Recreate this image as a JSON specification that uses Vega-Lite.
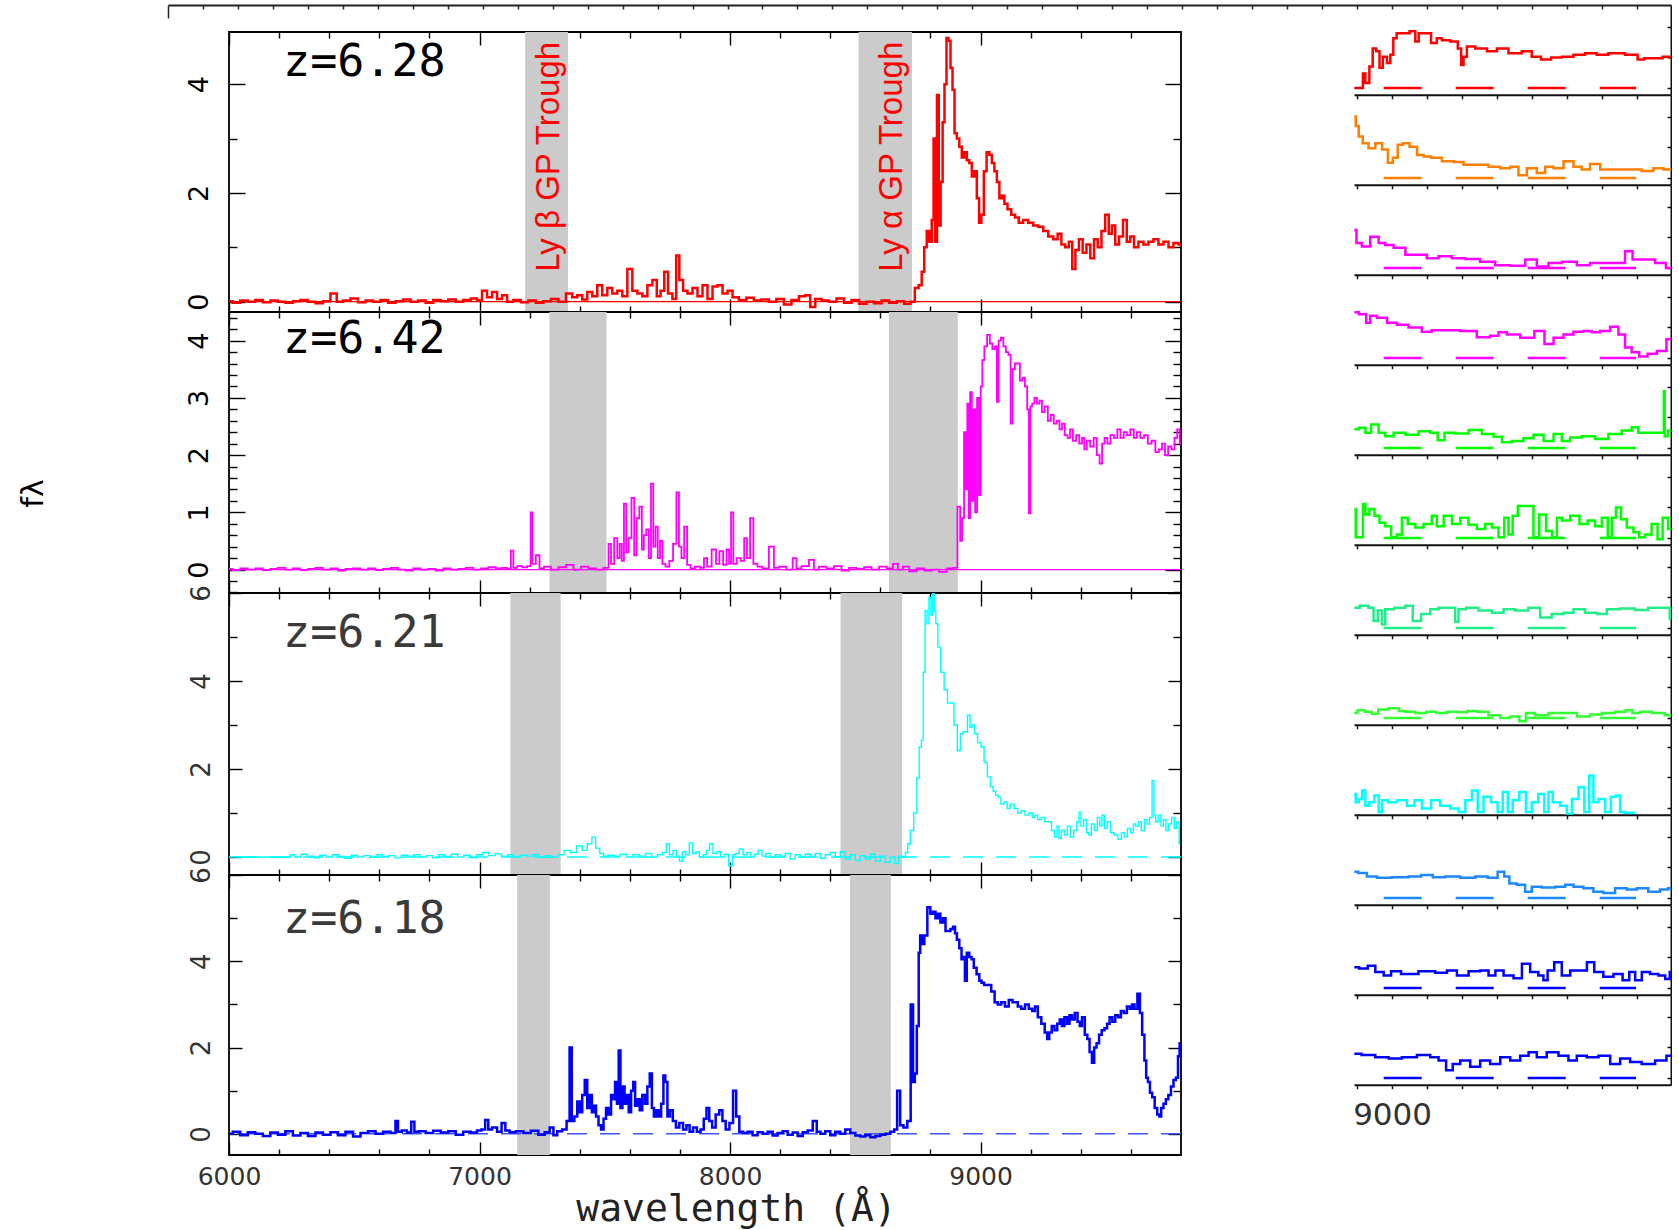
{
  "$schema": "https://vega.github.io/schema/vega-lite/v6.json",
  "background": "white",
  "padding": {"left": 18, "top": 4, "right": 0, "bottom": 0},
  "config": {
    "view": {"stroke": null},
    "axis": {"grid": false, "labelFlush": false, "labelOverlap": false},
    "font": "DejaVu Sans"
  },
  "datasets": {
    "bands1": [{"start": 7182, "end": 7353}, {"start": 8513, "end": 8726}],
    "bands2": [{"start": 7279, "end": 7507}, {"start": 8634, "end": 8909}],
    "bands3": [{"start": 7123, "end": 7324}, {"start": 8441, "end": 8687}],
    "bands4": [{"start": 7150, "end": 7281}, {"start": 8479, "end": 8642}],
    "p1": [
      {"w":6000,"f":0.01},{"w":6030,"f":-0.02},{"w":6060,"f":0.02},{"w":6090,"f":0},{"w":6120,"f":0.03},{"w":6150,"f":-0.01},{"w":6180,"f":0.02},{"w":6210,"f":0},{"w":6240,"f":-0.02},{"w":6270,"f":0.01},{"w":6300,"f":0.03},{"w":6330,"f":0},{"w":6360,"f":-0.03},{"w":6390,"f":0.01},{"w":6420,"f":0.15},{"w":6440,"f":0},{"w":6470,"f":0.02},{"w":6500,"f":0.06},{"w":6530,"f":-0.01},{"w":6560,"f":0.02},{"w":6590,"f":0},{"w":6620,"f":0.03},{"w":6650,"f":-0.02},{"w":6680,"f":0.01},{"w":6710,"f":0.04},{"w":6740,"f":0},{"w":6770,"f":0.02},{"w":6800,"f":-0.02},{"w":6830,"f":0.03},{"w":6860,"f":0.01},{"w":6890,"f":0.04},{"w":6920,"f":0},{"w":6950,"f":0.03},{"w":6980,"f":0.06},{"w":7000,"f":0.02},{"w":7020,"f":0.2},{"w":7040,"f":0.08},{"w":7060,"f":0.18},{"w":7080,"f":0.05},{"w":7100,"f":0.12},{"w":7120,"f":0},{"w":7150,"f":0.03},{"w":7180,"f":-0.01},{"w":7210,"f":0.02},{"w":7240,"f":-0.02},{"w":7270,"f":0.01},{"w":7300,"f":0.05},{"w":7330,"f":0},{"w":7360,"f":0.15},{"w":7380,"f":0.08},{"w":7400,"f":0.12},{"w":7420,"f":0.04},{"w":7440,"f":0.18},{"w":7460,"f":0.1},{"w":7480,"f":0.3},{"w":7500,"f":0.12},{"w":7520,"f":0.25},{"w":7540,"f":0.15},{"w":7560,"f":0.2},{"w":7580,"f":0.1},{"w":7600,"f":0.6},{"w":7620,"f":0.2},{"w":7640,"f":0.15},{"w":7660,"f":0.1},{"w":7680,"f":0.3},{"w":7700,"f":0.4},{"w":7715,"f":0.1},{"w":7730,"f":0.2},{"w":7745,"f":0.55},{"w":7760,"f":0.15},{"w":7780,"f":0.05},{"w":7790,"f":0.85},{"w":7805,"f":0.4},{"w":7820,"f":0.2},{"w":7840,"f":0.15},{"w":7860,"f":0.25},{"w":7880,"f":0.1},{"w":7900,"f":0.3},{"w":7920,"f":0.05},{"w":7940,"f":0.28},{"w":7960,"f":0.3},{"w":7980,"f":0.15},{"w":8000,"f":0.2},{"w":8020,"f":0.08},{"w":8050,"f":0.03},{"w":8080,"f":0.07},{"w":8110,"f":0.02},{"w":8140,"f":0.04},{"w":8170,"f":0},{"w":8200,"f":0.05},{"w":8230,"f":-0.05},{"w":8260,"f":0.03},{"w":8290,"f":0.1},{"w":8310,"f":0.12},{"w":8330,"f":-0.1},{"w":8350,"f":0.05},{"w":8380,"f":0.02},{"w":8410,"f":0},{"w":8440,"f":0.06},{"w":8470,"f":-0.02},{"w":8500,"f":0.03},{"w":8530,"f":-0.04},{"w":8560,"f":0},{"w":8590,"f":-0.03},{"w":8620,"f":0.02},{"w":8650,"f":-0.02},{"w":8680,"f":0.01},{"w":8710,"f":-0.04},{"w":8730,"f":0},{"w":8745,"f":0.25},{"w":8760,"f":0.3},{"w":8770,"f":0.55},{"w":8780,"f":1.0},{"w":8790,"f":1.3},{"w":8800,"f":1.1},{"w":8810,"f":1.5},{"w":8815,"f":3.0},{"w":8822,"f":1.1},{"w":8830,"f":3.8},{"w":8836,"f":1.4},{"w":8845,"f":2.2},{"w":8852,"f":3.3},{"w":8860,"f":4.0},{"w":8868,"f":4.85},{"w":8876,"f":4.8},{"w":8884,"f":4.3},{"w":8892,"f":3.9},{"w":8900,"f":3.1},{"w":8910,"f":3.0},{"w":8920,"f":2.85},{"w":8930,"f":2.65},{"w":8940,"f":2.75},{"w":8950,"f":2.6},{"w":8960,"f":2.55},{"w":8970,"f":2.3},{"w":8980,"f":2.4},{"w":8990,"f":1.9},{"w":8998,"f":1.45},{"w":9008,"f":1.6},{"w":9018,"f":2.4},{"w":9030,"f":2.75},{"w":9040,"f":2.7},{"w":9050,"f":2.55},{"w":9060,"f":2.4},{"w":9070,"f":2.2},{"w":9080,"f":1.9},{"w":9090,"f":1.95},{"w":9100,"f":1.8},{"w":9115,"f":1.7},{"w":9130,"f":1.6},{"w":9145,"f":1.55},{"w":9160,"f":1.45},{"w":9180,"f":1.5},{"w":9200,"f":1.45},{"w":9220,"f":1.4},{"w":9240,"f":1.38},{"w":9260,"f":1.3},{"w":9280,"f":1.2},{"w":9300,"f":1.15},{"w":9315,"f":1.25},{"w":9330,"f":1.05},{"w":9345,"f":1.0},{"w":9360,"f":1.1},{"w":9372,"f":0.6},{"w":9385,"f":0.95},{"w":9400,"f":1.15},{"w":9415,"f":0.9},{"w":9430,"f":1.05},{"w":9446,"f":0.8},{"w":9460,"f":1.15},{"w":9475,"f":1.0},{"w":9490,"f":1.3},{"w":9505,"f":1.6},{"w":9518,"f":1.25},{"w":9530,"f":1.4},{"w":9545,"f":1.05},{"w":9560,"f":1.2},{"w":9577,"f":1.5},{"w":9590,"f":1.1},{"w":9605,"f":1.2},{"w":9620,"f":1.0},{"w":9640,"f":1.1},{"w":9660,"f":1.05},{"w":9680,"f":1.1},{"w":9700,"f":1.15},{"w":9720,"f":1.05},{"w":9740,"f":1.1},{"w":9760,"f":1.0},{"w":9780,"f":1.08},{"w":9800,"f":1.05}
    ],
    "p2": [
      {"w":6000,"f":0.01},{"w":6030,"f":-0.01},{"w":6060,"f":0.02},{"w":6090,"f":0},{"w":6120,"f":0.02},{"w":6150,"f":-0.01},{"w":6180,"f":0.01},{"w":6210,"f":0.03},{"w":6240,"f":0},{"w":6270,"f":0.02},{"w":6300,"f":-0.01},{"w":6330,"f":0.01},{"w":6360,"f":0.03},{"w":6390,"f":0},{"w":6420,"f":0.02},{"w":6450,"f":-0.02},{"w":6480,"f":0.01},{"w":6510,"f":0.02},{"w":6540,"f":0},{"w":6570,"f":0.02},{"w":6600,"f":-0.01},{"w":6630,"f":0.01},{"w":6660,"f":0.03},{"w":6690,"f":0},{"w":6720,"f":-0.02},{"w":6750,"f":0.02},{"w":6780,"f":0},{"w":6810,"f":0.01},{"w":6840,"f":-0.02},{"w":6870,"f":0.02},{"w":6900,"f":0},{"w":6930,"f":0.01},{"w":6960,"f":0.03},{"w":6990,"f":0},{"w":7020,"f":0.02},{"w":7050,"f":0.04},{"w":7080,"f":0.02},{"w":7100,"f":0.03},{"w":7120,"f":0.01},{"w":7130,"f":0.33},{"w":7140,"f":0.03},{"w":7160,"f":0.06},{"w":7180,"f":0.04},{"w":7200,"f":0.06},{"w":7208,"f":1.0},{"w":7215,"f":0.1},{"w":7234,"f":0.25},{"w":7245,"f":0.02},{"w":7270,"f":0.05},{"w":7300,"f":0},{"w":7330,"f":0.04},{"w":7360,"f":0.08},{"w":7390,"f":0},{"w":7420,"f":0.05},{"w":7450,"f":0.02},{"w":7480,"f":0},{"w":7510,"f":0.03},{"w":7520,"f":0.45},{"w":7530,"f":0.1},{"w":7545,"f":0.55},{"w":7555,"f":0.2},{"w":7564,"f":0.45},{"w":7572,"f":0.15},{"w":7581,"f":1.15},{"w":7590,"f":0.3},{"w":7600,"f":0.55},{"w":7613,"f":1.25},{"w":7622,"f":0.25},{"w":7632,"f":0.9},{"w":7644,"f":1.1},{"w":7652,"f":0.35},{"w":7660,"f":0.6},{"w":7671,"f":0.7},{"w":7680,"f":0.2},{"w":7689,"f":1.5},{"w":7698,"f":0.4},{"w":7707,"f":0.75},{"w":7716,"f":0.2},{"w":7725,"f":0.5},{"w":7735,"f":0.1},{"w":7750,"f":0.05},{"w":7765,"f":0.15},{"w":7780,"f":0.45},{"w":7792,"f":1.35},{"w":7800,"f":0.4},{"w":7812,"f":0.2},{"w":7822,"f":0.75},{"w":7835,"f":0.08},{"w":7850,"f":0.02},{"w":7870,"f":0.05},{"w":7890,"f":0.03},{"w":7902,"f":0.2},{"w":7915,"f":0.05},{"w":7938,"f":0.35},{"w":7950,"f":0.1},{"w":7965,"f":0.32},{"w":7980,"f":0.08},{"w":7992,"f":0.35},{"w":8000,"f":0.1},{"w":8008,"f":1.0},{"w":8018,"f":0.1},{"w":8035,"f":0.2},{"w":8050,"f":0.15},{"w":8063,"f":0.55},{"w":8072,"f":0.2},{"w":8088,"f":0.9},{"w":8098,"f":0.1},{"w":8120,"f":0.05},{"w":8140,"f":0.02},{"w":8170,"f":0.4},{"w":8180,"f":0.03},{"w":8210,"f":0.05},{"w":8240,"f":0},{"w":8260,"f":0.2},{"w":8270,"f":0.02},{"w":8300,"f":0.06},{"w":8330,"f":0.17},{"w":8340,"f":0},{"w":8370,"f":0.05},{"w":8400,"f":0.02},{"w":8430,"f":0.06},{"w":8460,"f":-0.02},{"w":8490,"f":0.03},{"w":8520,"f":0.01},{"w":8550,"f":0.04},{"w":8580,"f":0},{"w":8610,"f":0.05},{"w":8640,"f":0.02},{"w":8660,"f":0.1},{"w":8680,"f":0},{"w":8700,"f":0.05},{"w":8730,"f":-0.03},{"w":8760,"f":0.02},{"w":8790,"f":-0.02},{"w":8820,"f":0},{"w":8850,"f":-0.04},{"w":8880,"f":0.02},{"w":8900,"f":0.03},{"w":8915,"f":1.1},{"w":8922,"f":0.5},{"w":8930,"f":0.9},{"w":8938,"f":2.4},{"w":8944,"f":1.4},{"w":8950,"f":2.9},{"w":8955,"f":0.9},{"w":8962,"f":3.1},{"w":8968,"f":1.2},{"w":8975,"f":2.8},{"w":8982,"f":1.0},{"w":8990,"f":3.0},{"w":8997,"f":1.3},{"w":9004,"f":3.2},{"w":9010,"f":3.66},{"w":9020,"f":3.9},{"w":9032,"f":4.1},{"w":9042,"f":3.95},{"w":9052,"f":3.85},{"w":9062,"f":3.9},{"w":9068,"f":2.93},{"w":9076,"f":4.0},{"w":9086,"f":4.05},{"w":9096,"f":3.9},{"w":9106,"f":3.8},{"w":9116,"f":3.75},{"w":9124,"f":2.55},{"w":9132,"f":3.5},{"w":9142,"f":3.6},{"w":9152,"f":3.6},{"w":9162,"f":3.3},{"w":9172,"f":3.35},{"w":9182,"f":3.2},{"w":9190,"f":2.8},{"w":9196,"f":0.98},{"w":9202,"f":2.85},{"w":9210,"f":2.9},{"w":9220,"f":3.0},{"w":9230,"f":2.9},{"w":9240,"f":2.95},{"w":9250,"f":2.75},{"w":9262,"f":2.85},{"w":9275,"f":2.6},{"w":9286,"f":2.7},{"w":9298,"f":2.55},{"w":9310,"f":2.6},{"w":9320,"f":2.45},{"w":9330,"f":2.55},{"w":9342,"f":2.35},{"w":9352,"f":2.3},{"w":9362,"f":2.45},{"w":9375,"f":2.25},{"w":9388,"f":2.35},{"w":9400,"f":2.2},{"w":9410,"f":2.3},{"w":9418,"f":2.1},{"w":9430,"f":2.25},{"w":9445,"f":2.15},{"w":9458,"f":2.3},{"w":9470,"f":2.0},{"w":9480,"f":1.85},{"w":9490,"f":2.2},{"w":9500,"f":2.3},{"w":9512,"f":2.2},{"w":9525,"f":2.35},{"w":9540,"f":2.3},{"w":9552,"f":2.45},{"w":9565,"f":2.3},{"w":9578,"f":2.4},{"w":9590,"f":2.35},{"w":9605,"f":2.45},{"w":9618,"f":2.3},{"w":9630,"f":2.4},{"w":9645,"f":2.3},{"w":9660,"f":2.35},{"w":9675,"f":2.2},{"w":9690,"f":2.25},{"w":9705,"f":2.05},{"w":9718,"f":2.1},{"w":9730,"f":2.2},{"w":9742,"f":2.0},{"w":9755,"f":2.15},{"w":9768,"f":2.1},{"w":9780,"f":2.3},{"w":9790,"f":2.45},{"w":9800,"f":2.2}
    ],
    "p3": [
      {"w":6000,"f":0},{"w":6240,"f":0},{"w":6250,"f":0.05},{"w":6275,"f":0},{"w":6300,"f":0.06},{"w":6325,"f":0.02},{"w":6350,"f":-0.02},{"w":6375,"f":0.04},{"w":6400,"f":0},{"w":6425,"f":0.05},{"w":6450,"f":0.01},{"w":6475,"f":-0.03},{"w":6500,"f":0.04},{"w":6525,"f":0},{"w":6550,"f":0.03},{"w":6575,"f":-0.01},{"w":6600,"f":0.05},{"w":6625,"f":0.01},{"w":6650,"f":0.03},{"w":6675,"f":-0.02},{"w":6700,"f":0.04},{"w":6725,"f":0.02},{"w":6750,"f":0.05},{"w":6775,"f":0},{"w":6800,"f":0.03},{"w":6825,"f":-0.02},{"w":6850,"f":0.05},{"w":6875,"f":0.01},{"w":6900,"f":0.06},{"w":6925,"f":0},{"w":6950,"f":0.04},{"w":6975,"f":-0.02},{"w":7000,"f":0.05},{"w":7025,"f":0.1},{"w":7050,"f":0.03},{"w":7075,"f":0.07},{"w":7100,"f":0.02},{"w":7125,"f":0.05},{"w":7150,"f":0},{"w":7175,"f":0.04},{"w":7200,"f":0.02},{"w":7225,"f":0.05},{"w":7250,"f":-0.01},{"w":7275,"f":0.03},{"w":7300,"f":0},{"w":7325,"f":0.05},{"w":7350,"f":0.15},{"w":7375,"f":0.1},{"w":7400,"f":0.25},{"w":7420,"f":0.15},{"w":7440,"f":0.3},{"w":7457,"f":0.45},{"w":7470,"f":0.2},{"w":7490,"f":0.08},{"w":7500,"f":0.02},{"w":7525,"f":0.04},{"w":7550,"f":0.02},{"w":7575,"f":0.06},{"w":7600,"f":0},{"w":7625,"f":0.05},{"w":7650,"f":0.02},{"w":7675,"f":0.08},{"w":7700,"f":0},{"w":7720,"f":0.05},{"w":7740,"f":0.1},{"w":7751,"f":0.3},{"w":7765,"f":0.05},{"w":7780,"f":0.15},{"w":7792,"f":0.02},{"w":7805,"f":-0.1},{"w":7815,"f":0.12},{"w":7830,"f":0.05},{"w":7844,"f":0.32},{"w":7858,"f":0.08},{"w":7870,"f":0.12},{"w":7885,"f":0},{"w":7900,"f":0.05},{"w":7912,"f":0.15},{"w":7924,"f":0.3},{"w":7940,"f":0.08},{"w":7955,"f":0.12},{"w":7970,"f":0},{"w":7985,"f":0.06},{"w":8004,"f":-0.2},{"w":8015,"f":0.05},{"w":8030,"f":0.08},{"w":8044,"f":0.18},{"w":8060,"f":0.05},{"w":8075,"f":0.1},{"w":8090,"f":0},{"w":8105,"f":0.06},{"w":8120,"f":0.15},{"w":8135,"f":0.02},{"w":8150,"f":0.08},{"w":8170,"f":0},{"w":8190,"f":0.05},{"w":8210,"f":0.02},{"w":8230,"f":0.08},{"w":8250,"f":-0.05},{"w":8270,"f":0.05},{"w":8290,"f":0},{"w":8310,"f":0.06},{"w":8330,"f":0.02},{"w":8350,"f":0.08},{"w":8370,"f":-0.03},{"w":8390,"f":0.05},{"w":8410,"f":0.1},{"w":8430,"f":0},{"w":8450,"f":0.12},{"w":8470,"f":-0.05},{"w":8490,"f":0.05},{"w":8510,"f":-0.08},{"w":8530,"f":0.03},{"w":8550,"f":-0.05},{"w":8570,"f":0.06},{"w":8590,"f":-0.1},{"w":8610,"f":0.02},{"w":8630,"f":-0.12},{"w":8650,"f":0},{"w":8665,"f":-0.15},{"w":8680,"f":0.02},{"w":8695,"f":0},{"w":8705,"f":0.1},{"w":8714,"f":0.3},{"w":8725,"f":0.6},{"w":8741,"f":1.0},{"w":8750,"f":1.8},{"w":8760,"f":2.5},{"w":8767,"f":2.65},{"w":8775,"f":4.2},{"w":8782,"f":5.6},{"w":8790,"f":5.3},{"w":8798,"f":5.9},{"w":8805,"f":5.5},{"w":8812,"f":6.0},{"w":8818,"f":5.6},{"w":8825,"f":5.3},{"w":8834,"f":4.77},{"w":8848,"f":4.2},{"w":8861,"f":3.8},{"w":8875,"f":3.5},{"w":8888,"f":3.5},{"w":8900,"f":3.0},{"w":8914,"f":2.42},{"w":8925,"f":2.8},{"w":8935,"f":2.85},{"w":8941,"f":2.84},{"w":8954,"f":3.22},{"w":8962,"f":2.95},{"w":8970,"f":3.0},{"w":8981,"f":2.8},{"w":8995,"f":2.6},{"w":9008,"f":2.5},{"w":9020,"f":2.15},{"w":9034,"f":1.82},{"w":9045,"f":1.6},{"w":9055,"f":1.5},{"w":9065,"f":1.4},{"w":9075,"f":1.36},{"w":9088,"f":1.2},{"w":9100,"f":1.25},{"w":9112,"f":1.1},{"w":9125,"f":1.2},{"w":9142,"f":1.1},{"w":9155,"f":1.0},{"w":9170,"f":1.05},{"w":9185,"f":0.95},{"w":9200,"f":1.0},{"w":9212,"f":0.9},{"w":9222,"f":0.95},{"w":9235,"f":0.85},{"w":9250,"f":0.9},{"w":9262,"f":0.8},{"w":9276,"f":0.8},{"w":9290,"f":0.6},{"w":9300,"f":0.45},{"w":9310,"f":0.7},{"w":9316,"f":0.42},{"w":9328,"f":0.6},{"w":9340,"f":0.5},{"w":9352,"f":0.7},{"w":9365,"f":0.45},{"w":9378,"f":0.6},{"w":9390,"f":0.8},{"w":9396,"f":1.02},{"w":9405,"f":0.7},{"w":9418,"f":0.85},{"w":9428,"f":0.55},{"w":9436,"f":0.5},{"w":9448,"f":0.75},{"w":9460,"f":0.6},{"w":9472,"f":0.9},{"w":9480,"f":0.7},{"w":9489,"f":0.95},{"w":9500,"f":0.65},{"w":9512,"f":0.8},{"w":9525,"f":0.55},{"w":9540,"f":0.5},{"w":9556,"f":0.4},{"w":9568,"f":0.55},{"w":9580,"f":0.45},{"w":9592,"f":0.65},{"w":9605,"f":0.55},{"w":9615,"f":0.75},{"w":9623,"f":0.7},{"w":9635,"f":0.8},{"w":9648,"f":0.6},{"w":9660,"f":0.85},{"w":9670,"f":0.75},{"w":9680,"f":0.9},{"w":9689,"f":1.74},{"w":9695,"f":0.95},{"w":9703,"f":0.8},{"w":9715,"f":0.95},{"w":9725,"f":0.7},{"w":9735,"f":0.85},{"w":9745,"f":0.6},{"w":9757,"f":0.75},{"w":9768,"f":0.9},{"w":9778,"f":0.65},{"w":9788,"f":0.8},{"w":9797,"f":0.3}
    ],
    "p4": [
      {"w":6000,"f":0},{"w":6030,"f":0.05},{"w":6060,"f":-0.03},{"w":6090,"f":0.04},{"w":6120,"f":0},{"w":6150,"f":-0.05},{"w":6180,"f":0.03},{"w":6210,"f":-0.02},{"w":6240,"f":0.06},{"w":6270,"f":-0.04},{"w":6300,"f":0.02},{"w":6330,"f":-0.05},{"w":6360,"f":0.03},{"w":6390,"f":-0.02},{"w":6420,"f":0.04},{"w":6450,"f":-0.03},{"w":6480,"f":0.05},{"w":6510,"f":-0.06},{"w":6540,"f":0.02},{"w":6570,"f":0.06},{"w":6600,"f":0},{"w":6630,"f":0.05},{"w":6660,"f":0.02},{"w":6669,"f":0.3},{"w":6680,"f":0.05},{"w":6700,"f":0.08},{"w":6720,"f":0.03},{"w":6735,"f":0.28},{"w":6745,"f":0.05},{"w":6770,"f":0.06},{"w":6800,"f":0.02},{"w":6830,"f":0.07},{"w":6860,"f":0.03},{"w":6890,"f":0.06},{"w":6920,"f":-0.02},{"w":6950,"f":0.05},{"w":6980,"f":0.03},{"w":7000,"f":0.08},{"w":7015,"f":0.1},{"w":7030,"f":0.32},{"w":7040,"f":0.1},{"w":7060,"f":0.15},{"w":7080,"f":0.05},{"w":7096,"f":0.25},{"w":7110,"f":0.08},{"w":7130,"f":0.04},{"w":7160,"f":0.06},{"w":7190,"f":0.02},{"w":7220,"f":0.07},{"w":7250,"f":-0.02},{"w":7270,"f":0.04},{"w":7290,"f":0.15},{"w":7300,"f":-0.03},{"w":7320,"f":0.06},{"w":7340,"f":0.1},{"w":7355,"f":0.3},{"w":7364,"f":2.0},{"w":7372,"f":0.3},{"w":7385,"f":0.4},{"w":7395,"f":0.75},{"w":7405,"f":0.5},{"w":7415,"f":0.9},{"w":7425,"f":1.25},{"w":7435,"f":0.6},{"w":7445,"f":0.9},{"w":7452,"f":0.5},{"w":7460,"f":0.65},{"w":7470,"f":0.4},{"w":7480,"f":0.2},{"w":7490,"f":0.1},{"w":7500,"f":0.35},{"w":7510,"f":0.6},{"w":7520,"f":0.45},{"w":7530,"f":0.9},{"w":7537,"f":0.8},{"w":7545,"f":1.2},{"w":7552,"f":0.7},{"w":7559,"f":1.93},{"w":7566,"f":0.6},{"w":7575,"f":1.1},{"w":7583,"f":0.7},{"w":7591,"f":0.9},{"w":7600,"f":0.5},{"w":7610,"f":1.0},{"w":7617,"f":1.2},{"w":7625,"f":0.65},{"w":7635,"f":0.8},{"w":7644,"f":0.55},{"w":7655,"f":0.9},{"w":7665,"f":0.7},{"w":7675,"f":1.1},{"w":7684,"f":1.4},{"w":7692,"f":0.6},{"w":7700,"f":0.4},{"w":7711,"f":0.55},{"w":7720,"f":0.4},{"w":7730,"f":0.7},{"w":7738,"f":1.35},{"w":7745,"f":1.2},{"w":7755,"f":0.4},{"w":7765,"f":0.55},{"w":7778,"f":0.3},{"w":7790,"f":0.15},{"w":7805,"f":0.25},{"w":7820,"f":0.1},{"w":7832,"f":0.2},{"w":7845,"f":0.05},{"w":7860,"f":0.15},{"w":7875,"f":0.05},{"w":7890,"f":0.1},{"w":7900,"f":0.35},{"w":7912,"f":0.6},{"w":7922,"f":0.3},{"w":7935,"f":0.15},{"w":7950,"f":0.45},{"w":7964,"f":0.55},{"w":7975,"f":0.3},{"w":7990,"f":0.1},{"w":8005,"f":0.25},{"w":8019,"f":1.0},{"w":8030,"f":0.4},{"w":8044,"f":0.05},{"w":8060,"f":0.02},{"w":8080,"f":0.05},{"w":8100,"f":-0.03},{"w":8120,"f":0.04},{"w":8140,"f":0},{"w":8160,"f":0.05},{"w":8180,"f":-0.04},{"w":8200,"f":0.02},{"w":8220,"f":0.06},{"w":8240,"f":-0.02},{"w":8260,"f":0.03},{"w":8280,"f":-0.05},{"w":8300,"f":0.04},{"w":8320,"f":0.08},{"w":8340,"f":0.3},{"w":8352,"f":0.05},{"w":8370,"f":0},{"w":8390,"f":0.06},{"w":8410,"f":-0.03},{"w":8430,"f":0.05},{"w":8450,"f":0},{"w":8470,"f":0.1},{"w":8490,"f":0.02},{"w":8510,"f":-0.04},{"w":8530,"f":-0.06},{"w":8550,"f":-0.03},{"w":8570,"f":-0.08},{"w":8590,"f":-0.05},{"w":8610,"f":-0.02},{"w":8630,"f":0},{"w":8650,"f":0.05},{"w":8660,"f":0.1},{"w":8674,"f":1.0},{"w":8684,"f":0.2},{"w":8700,"f":0.15},{"w":8715,"f":0.3},{"w":8727,"f":3.0},{"w":8734,"f":1.2},{"w":8741,"f":1.4},{"w":8750,"f":2.5},{"w":8756,"f":4.2},{"w":8762,"f":4.6},{"w":8770,"f":4.4},{"w":8781,"f":4.6},{"w":8794,"f":5.25},{"w":8805,"f":5.1},{"w":8815,"f":5.15},{"w":8825,"f":5.0},{"w":8834,"f":5.1},{"w":8845,"f":4.9},{"w":8855,"f":5.0},{"w":8865,"f":4.7},{"w":8874,"f":4.7},{"w":8885,"f":4.75},{"w":8895,"f":4.8},{"w":8901,"f":4.65},{"w":8910,"f":4.5},{"w":8920,"f":4.3},{"w":8928,"f":4.05},{"w":8935,"f":4.1},{"w":8940,"f":3.55},{"w":8950,"f":4.2},{"w":8960,"f":4.1},{"w":8968,"f":4.05},{"w":8978,"f":3.85},{"w":8990,"f":3.7},{"w":9000,"f":3.55},{"w":9008,"f":3.5},{"w":9020,"f":3.45},{"w":9035,"f":3.45},{"w":9050,"f":3.3},{"w":9062,"f":3.05},{"w":9075,"f":3.0},{"w":9090,"f":3.05},{"w":9105,"f":2.95},{"w":9120,"f":3.1},{"w":9135,"f":3.05},{"w":9142,"f":3.05},{"w":9155,"f":2.95},{"w":9170,"f":2.9},{"w":9185,"f":3.0},{"w":9200,"f":2.9},{"w":9212,"f":2.85},{"w":9222,"f":2.95},{"w":9235,"f":2.7},{"w":9250,"f":2.55},{"w":9262,"f":2.35},{"w":9270,"f":2.2},{"w":9278,"f":2.35},{"w":9290,"f":2.5},{"w":9300,"f":2.4},{"w":9312,"f":2.55},{"w":9320,"f":2.65},{"w":9329,"f":2.5},{"w":9340,"f":2.7},{"w":9350,"f":2.55},{"w":9360,"f":2.75},{"w":9370,"f":2.65},{"w":9382,"f":2.8},{"w":9392,"f":2.6},{"w":9400,"f":2.5},{"w":9410,"f":2.7},{"w":9422,"f":2.3},{"w":9430,"f":2.2},{"w":9440,"f":1.9},{"w":9449,"f":1.65},{"w":9458,"f":2.0},{"w":9468,"f":2.1},{"w":9478,"f":2.3},{"w":9489,"f":2.4},{"w":9500,"f":2.45},{"w":9510,"f":2.55},{"w":9520,"f":2.7},{"w":9532,"f":2.6},{"w":9543,"f":2.75},{"w":9555,"f":2.7},{"w":9565,"f":2.85},{"w":9578,"f":2.8},{"w":9590,"f":2.95},{"w":9600,"f":2.9},{"w":9609,"f":3.0},{"w":9620,"f":2.9},{"w":9632,"f":3.25},{"w":9640,"f":2.8},{"w":9650,"f":2.3},{"w":9658,"f":1.7},{"w":9664,"f":1.3},{"w":9672,"f":1.2},{"w":9680,"f":0.95},{"w":9690,"f":0.85},{"w":9700,"f":0.6},{"w":9710,"f":0.45},{"w":9717,"f":0.4},{"w":9725,"f":0.6},{"w":9735,"f":0.7},{"w":9744,"f":0.8},{"w":9755,"f":0.9},{"w":9765,"f":1.1},{"w":9775,"f":1.25},{"w":9784,"f":1.3},{"w":9792,"f":1.8},{"w":9797,"f":2.1}
    ],
    "s1": [{"w":8892,"f":0},{"w":8914,"f":0},{"w":8919,"f":0.21},{"w":8928,"f":0.07},{"w":8942,"f":0.31},{"w":8947,"f":0.57},{"w":8962,"f":0.53},{"w":8966,"f":0.29},{"w":8981,"f":0.45},{"w":8990,"f":0.36},{"w":9000,"f":0.48},{"w":9007,"f":0.72},{"w":9019,"f":0.79},{"w":9038,"f":0.79},{"w":9062,"f":0.82},{"w":9071,"f":0.67},{"w":9081,"f":0.79},{"w":9100,"f":0.79},{"w":9123,"f":0.65},{"w":9133,"f":0.72},{"w":9152,"f":0.69},{"w":9181,"f":0.67},{"w":9195,"f":0.57},{"w":9200,"f":0.33},{"w":9209,"f":0.45},{"w":9219,"f":0.6},{"w":9257,"f":0.57},{"w":9286,"f":0.53},{"w":9314,"f":0.57},{"w":9352,"f":0.5},{"w":9390,"f":0.53},{"w":9409,"f":0.45},{"w":9443,"f":0.41},{"w":9467,"f":0.44},{"w":9505,"f":0.45},{"w":9533,"f":0.48},{"w":9571,"f":0.5},{"w":9600,"f":0.48},{"w":9638,"f":0.5},{"w":9695,"f":0.48},{"w":9710,"f":0.41},{"w":9733,"f":0.43},{"w":9762,"f":0.43},{"w":9786,"f":0.45},{"w":9798,"f":0.44}],
    "s2": [{"w":8892,"f":0.89},{"w":8900,"f":0.75},{"w":8909,"f":0.6},{"w":8923,"f":0.5},{"w":8942,"f":0.43},{"w":8962,"f":0.5},{"w":8981,"f":0.41},{"w":8995,"f":0.22},{"w":9009,"f":0.29},{"w":9023,"f":0.48},{"w":9038,"f":0.5},{"w":9062,"f":0.45},{"w":9081,"f":0.33},{"w":9100,"f":0.31},{"w":9123,"f":0.29},{"w":9162,"f":0.24},{"w":9190,"f":0.23},{"w":9219,"f":0.19},{"w":9257,"f":0.19},{"w":9295,"f":0.16},{"w":9324,"f":0.14},{"w":9352,"f":0.16},{"w":9371,"f":0.04},{"w":9400,"f":0.14},{"w":9428,"f":0.07},{"w":9448,"f":0.16},{"w":9476,"f":0.14},{"w":9505,"f":0.24},{"w":9533,"f":0.16},{"w":9552,"f":0.12},{"w":9581,"f":0.2},{"w":9610,"f":0.12},{"w":9648,"f":0.12},{"w":9695,"f":0.12},{"w":9733,"f":0.1},{"w":9762,"f":0.14},{"w":9791,"f":0.12},{"w":9798,"f":0.12}],
    "s3": [{"w":8892,"f":0.55},{"w":8904,"f":0.36},{"w":8923,"f":0.31},{"w":8952,"f":0.45},{"w":8971,"f":0.36},{"w":8990,"f":0.33},{"w":9019,"f":0.29},{"w":9057,"f":0.19},{"w":9085,"f":0.19},{"w":9114,"f":0.14},{"w":9152,"f":0.17},{"w":9190,"f":0.14},{"w":9228,"f":0.13},{"w":9276,"f":0.09},{"w":9314,"f":0.04},{"w":9362,"f":0.03},{"w":9400,"f":0.12},{"w":9428,"f":0.02},{"w":9467,"f":0.07},{"w":9505,"f":0.09},{"w":9552,"f":0.04},{"w":9581,"f":0.07},{"w":9619,"f":0.07},{"w":9652,"f":0.07},{"w":9681,"f":0.24},{"w":9695,"f":0.12},{"w":9733,"f":0.12},{"w":9772,"f":0.07},{"w":9795,"f":0.0},{"w":9798,"f":0.0}],
    "s4": [{"w":8892,"f":0.66},{"w":8919,"f":0.63},{"w":8933,"f":0.51},{"w":8942,"f":0.61},{"w":8971,"f":0.58},{"w":9000,"f":0.51},{"w":9028,"f":0.48},{"w":9066,"f":0.44},{"w":9104,"f":0.38},{"w":9123,"f":0.4},{"w":9171,"f":0.4},{"w":9219,"f":0.39},{"w":9266,"f":0.3},{"w":9295,"f":0.32},{"w":9314,"f":0.37},{"w":9343,"f":0.34},{"w":9390,"f":0.29},{"w":9424,"f":0.39},{"w":9448,"f":0.2},{"w":9476,"f":0.29},{"w":9505,"f":0.34},{"w":9533,"f":0.38},{"w":9562,"f":0.39},{"w":9581,"f":0.37},{"w":9610,"f":0.39},{"w":9638,"f":0.45},{"w":9657,"f":0.34},{"w":9676,"f":0.15},{"w":9695,"f":0.08},{"w":9719,"f":0.02},{"w":9743,"f":0.06},{"w":9772,"f":0.1},{"w":9798,"f":0.27}],
    "s5": [{"w":8892,"f":0.27},{"w":8919,"f":0.29},{"w":8928,"f":0.22},{"w":8952,"f":0.34},{"w":8971,"f":0.22},{"w":8990,"f":0.17},{"w":9019,"f":0.22},{"w":9057,"f":0.19},{"w":9095,"f":0.24},{"w":9123,"f":0.22},{"w":9138,"f":0.11},{"w":9162,"f":0.22},{"w":9200,"f":0.21},{"w":9238,"f":0.26},{"w":9276,"f":0.2},{"w":9305,"f":0.16},{"w":9324,"f":0.08},{"w":9362,"f":0.1},{"w":9390,"f":0.14},{"w":9419,"f":0.19},{"w":9448,"f":0.1},{"w":9476,"f":0.2},{"w":9495,"f":0.1},{"w":9524,"f":0.15},{"w":9562,"f":0.17},{"w":9600,"f":0.13},{"w":9638,"f":0.2},{"w":9676,"f":0.25},{"w":9695,"f":0.3},{"w":9714,"f":0.22},{"w":9752,"f":0.22},{"w":9776,"f":0.22},{"w":9779,"f":0.82},{"w":9781,"f":0.17},{"w":9798,"f":0.25}],
    "s6": [{"w":8892,"f":0.42},{"w":8900,"f":0.01},{"w":8914,"f":0.01},{"w":8919,"f":0.49},{"w":8928,"f":0.34},{"w":8942,"f":0.42},{"w":8957,"f":0.32},{"w":8971,"f":0.22},{"w":8990,"f":0.17},{"w":9004,"f":0.01},{"w":9023,"f":0.05},{"w":9033,"f":0.29},{"w":9057,"f":0.2},{"w":9076,"f":0.15},{"w":9104,"f":0.2},{"w":9123,"f":0.32},{"w":9133,"f":0.17},{"w":9162,"f":0.32},{"w":9181,"f":0.2},{"w":9209,"f":0.29},{"w":9228,"f":0.19},{"w":9257,"f":0.13},{"w":9276,"f":0.2},{"w":9295,"f":0.15},{"w":9314,"f":0.01},{"w":9328,"f":0.29},{"w":9338,"f":0.05},{"w":9352,"f":0.32},{"w":9367,"f":0.46},{"w":9400,"f":0.46},{"w":9409,"f":0.01},{"w":9433,"f":0.34},{"w":9448,"f":0.1},{"w":9467,"f":0.01},{"w":9476,"f":0.29},{"w":9495,"f":0.25},{"w":9524,"f":0.32},{"w":9548,"f":0.2},{"w":9571,"f":0.25},{"w":9590,"f":0.17},{"w":9610,"f":0.29},{"w":9624,"f":0.01},{"w":9633,"f":0.29},{"w":9648,"f":0.44},{"w":9662,"f":0.27},{"w":9681,"f":0.15},{"w":9700,"f":0.08},{"w":9714,"f":0.01},{"w":9733,"f":0.05},{"w":9752,"f":0.2},{"w":9767,"f":-0.02},{"w":9781,"f":0.29},{"w":9798,"f":0.13}],
    "s7": [{"w":8892,"f":0.29},{"w":8923,"f":0.32},{"w":8942,"f":0.29},{"w":8952,"f":0.1},{"w":8966,"f":0.25},{"w":8976,"f":0.05},{"w":8985,"f":0.27},{"w":9028,"f":0.29},{"w":9047,"f":0.32},{"w":9071,"f":0.1},{"w":9095,"f":0.2},{"w":9123,"f":0.27},{"w":9143,"f":0.29},{"w":9176,"f":0.29},{"w":9185,"f":0.09},{"w":9195,"f":0.27},{"w":9228,"f":0.29},{"w":9266,"f":0.25},{"w":9305,"f":0.22},{"w":9333,"f":0.27},{"w":9371,"f":0.25},{"w":9409,"f":0.29},{"w":9438,"f":0.15},{"w":9476,"f":0.2},{"w":9505,"f":0.22},{"w":9533,"f":0.27},{"w":9571,"f":0.22},{"w":9600,"f":0.2},{"w":9629,"f":0.27},{"w":9676,"f":0.28},{"w":9714,"f":0.26},{"w":9752,"f":0.29},{"w":9791,"f":0.29},{"w":9798,"f":0.13}],
    "s8": [{"w":8892,"f":0.07},{"w":8910,"f":0.11},{"w":8933,"f":0.09},{"w":8950,"f":0.06},{"w":8971,"f":0.12},{"w":9009,"f":0.14},{"w":9030,"f":0.1},{"w":9047,"f":0.09},{"w":9085,"f":0.07},{"w":9110,"f":0.09},{"w":9143,"f":0.07},{"w":9170,"f":0.09},{"w":9200,"f":0.08},{"w":9230,"f":0.1},{"w":9257,"f":0.09},{"w":9295,"f":0.04},{"w":9324,"f":0},{"w":9352,"f":0.02},{"w":9376,"f":-0.05},{"w":9390,"f":0.07},{"w":9428,"f":0.04},{"w":9467,"f":0.07},{"w":9505,"f":0.07},{"w":9552,"f":0.02},{"w":9581,"f":0.05},{"w":9619,"f":0.07},{"w":9657,"f":0.09},{"w":9680,"f":0.11},{"w":9695,"f":0.07},{"w":9724,"f":0.09},{"w":9762,"f":0.07},{"w":9798,"f":0.04}],
    "s9": [{"w":8892,"f":0.2},{"w":8900,"f":0.08},{"w":8909,"f":0.13},{"w":8919,"f":0.25},{"w":8928,"f":0.03},{"w":8942,"f":0.08},{"w":8957,"f":0.18},{"w":8966,"f":-0.06},{"w":8976,"f":0.11},{"w":9000,"f":0.08},{"w":9028,"f":0.11},{"w":9057,"f":0.03},{"w":9071,"f":0.11},{"w":9100,"f":-0.01},{"w":9123,"f":0.11},{"w":9152,"f":0.03},{"w":9181,"f":-0.01},{"w":9200,"f":-0.06},{"w":9219,"f":0.11},{"w":9238,"f":0.25},{"w":9252,"f":-0.06},{"w":9271,"f":0.16},{"w":9295,"f":0.08},{"w":9309,"f":-0.06},{"w":9324,"f":0.23},{"w":9338,"f":-0.06},{"w":9352,"f":0.11},{"w":9376,"f":0.23},{"w":9390,"f":-0.06},{"w":9409,"f":0.08},{"w":9428,"f":0.2},{"w":9443,"f":-0.06},{"w":9452,"f":0.23},{"w":9467,"f":0.08},{"w":9495,"f":0.03},{"w":9505,"f":-0.09},{"w":9524,"f":0.13},{"w":9543,"f":0.3},{"w":9557,"f":-0.06},{"w":9571,"f":0.47},{"w":9581,"f":0.08},{"w":9600,"f":0.13},{"w":9619,"f":-0.06},{"w":9633,"f":0.16},{"w":9648,"f":0.18},{"w":9657,"f":-0.06},{"w":9676,"f":-0.07},{"w":9695,"f":-0.07}],
    "s10": [{"w":8892,"f":0.38},{"w":8914,"f":0.36},{"w":8942,"f":0.31},{"w":8971,"f":0.29},{"w":9028,"f":0.3},{"w":9066,"f":0.31},{"w":9100,"f":0.33},{"w":9133,"f":0.3},{"w":9171,"f":0.31},{"w":9219,"f":0.29},{"w":9257,"f":0.31},{"w":9290,"f":0.29},{"w":9314,"f":0.38},{"w":9328,"f":0.31},{"w":9343,"f":0.21},{"w":9371,"f":0.19},{"w":9390,"f":0.09},{"w":9409,"f":0.16},{"w":9448,"f":0.15},{"w":9486,"f":0.16},{"w":9505,"f":0.19},{"w":9533,"f":0.16},{"w":9562,"f":0.14},{"w":9590,"f":0.09},{"w":9619,"f":0.07},{"w":9657,"f":0.14},{"w":9686,"f":0.12},{"w":9714,"f":0.14},{"w":9752,"f":0.09},{"w":9781,"f":0.12},{"w":9798,"f":0.14}],
    "s11": [{"w":8892,"f":0.3},{"w":8919,"f":0.28},{"w":8942,"f":0.32},{"w":8962,"f":0.23},{"w":8990,"f":0.18},{"w":9004,"f":0.24},{"w":9047,"f":0.2},{"w":9104,"f":0.24},{"w":9143,"f":0.22},{"w":9171,"f":0.25},{"w":9200,"f":0.18},{"w":9238,"f":0.24},{"w":9266,"f":0.25},{"w":9286,"f":0.18},{"w":9305,"f":0.25},{"w":9333,"f":0.18},{"w":9362,"f":0.14},{"w":9381,"f":0.35},{"w":9409,"f":0.23},{"w":9428,"f":0.18},{"w":9438,"f":0.11},{"w":9452,"f":0.25},{"w":9476,"f":0.37},{"w":9495,"f":0.18},{"w":9524,"f":0.25},{"w":9548,"f":0.25},{"w":9567,"f":0.37},{"w":9590,"f":0.23},{"w":9619,"f":0.16},{"w":9648,"f":0.2},{"w":9671,"f":0.11},{"w":9686,"f":0.23},{"w":9705,"f":0.11},{"w":9724,"f":0.23},{"w":9752,"f":0.2},{"w":9772,"f":0.18},{"w":9791,"f":0.13},{"w":9798,"f":0.23}],
    "s12": [{"w":8892,"f":0.35},{"w":8933,"f":0.33},{"w":8971,"f":0.3},{"w":9009,"f":0.28},{"w":9047,"f":0.3},{"w":9095,"f":0.33},{"w":9123,"f":0.3},{"w":9143,"f":0.25},{"w":9166,"f":0.11},{"w":9181,"f":0.2},{"w":9209,"f":0.25},{"w":9238,"f":0.16},{"w":9266,"f":0.25},{"w":9295,"f":0.2},{"w":9324,"f":0.3},{"w":9352,"f":0.25},{"w":9381,"f":0.32},{"w":9400,"f":0.37},{"w":9428,"f":0.3},{"w":9457,"f":0.37},{"w":9495,"f":0.32},{"w":9514,"f":0.25},{"w":9543,"f":0.32},{"w":9571,"f":0.3},{"w":9610,"f":0.32},{"w":9638,"f":0.2},{"w":9667,"f":0.28},{"w":9695,"f":0.23},{"w":9733,"f":0.2},{"w":9772,"f":0.25},{"w":9798,"f":0.32}]
  },
  "spacing": 0,
  "bounds": "flush",
  "vconcat": [
    {
      "width": 1503, "height": 1,
      "data": {"values": [{}]},
      "mark": {"type": "rule", "opacity": 0},
      "encoding": {
        "x": {"datum": 9000, "type": "quantitative", "scale": {"domain": [5500, 9798], "nice": false, "zero": false},
          "axis": {"orient": "bottom", "values": [5500,5600,5700,5800,5900,6000,6100,6200,6300,6400,6500,6600,6700,6800,6900,7000,7100,7200,7300,7400,7500,7600,7700,7800,7900,8000,8100,8200,8300,8400,8500,8600,8700,8800,8900,9000,9100,9200,9300,9400,9500,9600,9700],
            "labels": false, "title": null, "domainColor": "#222", "domainWidth": 2, "tickColor": "#222", "tickWidth": 1.5,
            "tickSize": {"condition": {"test": "datum.value === 5500", "value": 13}, "value": 4}}}
      }
    },
    {
      "spacing": 0,
      "bounds": "flush",
      "hconcat": [
        {
          "width": 61, "height": 976,
          "data": {"values": [{}]},
          "mark": {"type": "rule", "opacity": 0},
          "encoding": {
            "y": {"datum": 0.5, "type": "quantitative", "scale": {"domain": [0, 1]},
              "axis": {"orient": "left", "title": "fλ", "domain": false, "ticks": false, "labels": false,
                "titleFont": "DejaVu Sans", "titleFontSize": 30, "titleFontWeight": "normal", "titleColor": "#000", "titlePadding": 120}}
          }
        },
        {
          "spacing": 1125,
          "bounds": "flush",
          "hconcat": [
            {
              "spacing": 0,
              "bounds": "flush",
              "vconcat": [
                {
                  "width": 952, "height": 27,
                  "data": {"values": [{}]},
                  "mark": {"type": "rule", "opacity": 0},
                  "encoding": {"y": {"datum": 0, "type": "quantitative", "axis": null}}
                },
                {
                  "width": 952, "height": 280,
                  "view": {"stroke": "#000", "strokeWidth": 1.8},
                  "layer": [
                    {
                      "data": {"name": "bands1"},
                      "mark": {"type": "rect", "color": "#cbcbcb"},
                      "encoding": {
                        "x": {"field": "start", "type": "quantitative", "scale": {"domain": [6000, 9800], "nice": false, "zero": false},
                          "axis": {"orient": "bottom", "values": [6000,6200,6400,6600,6800,7000,7200,7400,7600,7800,8000,8200,8400,8600,8800,9000,9200,9400,9600], "labels": false, "title": null, "domain": false, "tickColor": "#000", "tickWidth": 1.4, "tickSize": {"condition": {"test": "datum.value % 1000 === 0", "value": -13}, "value": -6}}},
                        "x2": {"field": "end"}
                      }
                    },
                    {
                      "data": {"values": [{}]},
                      "mark": {"type": "rule", "color": "#ff0000", "strokeWidth": 1.3},
                      "encoding": {
                        "y": {"datum": 0, "type": "quantitative", "scale": {"domain": [-0.19, 4.96], "nice": false, "zero": false},
                          "axis": {"orient": "left", "values": [0,1,2,3,4], "format": "d", "labelExpr": "datum.value % 2 === 0 ? datum.label : ''", "labelAngle": 270, "labelAlign": "center", "labelBaseline": "bottom", "labelFont": "DejaVu Sans", "labelFontSize": 27, "labelColor": "#000", "labelPadding": 32, "title": null, "domain": false, "tickColor": "#000", "tickWidth": 1.4, "tickSize": {"condition": {"test": "datum.value % 2 === 0", "value": -16}, "value": -8}}}
                      }
                    },
                    {
                      "data": {"name": "p1"},
                      "mark": {"type": "line", "interpolate": "step", "color": "#ff0000", "strokeWidth": 2.5, "clip": true},
                      "encoding": {
                        "x": {"field": "w", "type": "quantitative", "scale": {"domain": [6000, 9800], "nice": false, "zero": false},
                          "axis": {"orient": "top", "values": [6000,6200,6400,6600,6800,7000,7200,7400,7600,7800,8000,8200,8400,8600,8800,9000,9200,9400,9600], "labels": false, "title": null, "domain": false, "tickColor": "#000", "tickWidth": 1.4, "tickSize": {"condition": {"test": "datum.value % 1000 === 0", "value": -13}, "value": -6}}},
                        "y": {"field": "f", "type": "quantitative", "scale": {"domain": [-0.19, 4.96], "nice": false, "zero": false},
                          "axis": {"orient": "right", "values": [0,1,2,3,4], "labels": false, "title": null, "domain": false, "tickColor": "#000", "tickWidth": 1.4, "tickSize": {"condition": {"test": "datum.value % 2 === 0", "value": -16}, "value": -8}}}
                      }
                    },
                    {
                      "data": {"values": [{}]},
                      "mark": {"type": "text", "text": "z=6.28", "font": "DejaVu Sans Mono", "fontSize": 45, "align": "left", "baseline": "alphabetic", "color": "#000"},
                      "encoding": {"x": {"datum": 6216, "type": "quantitative", "axis": null}, "y": {"datum": 4.15, "type": "quantitative", "axis": null}}
                    },
                    {
                      "data": {"values": [{}]},
                      "mark": {"type": "text", "text": "Ly β GP Trough", "angle": 270, "font": "Liberation Sans", "fontSize": 33, "align": "left", "baseline": "alphabetic", "color": "#ff0000"},
                      "encoding": {"x": {"datum": 7317, "type": "quantitative", "axis": null}, "y": {"datum": 0.55, "type": "quantitative", "axis": null}}
                    },
                    {
                      "data": {"values": [{}]},
                      "mark": {"type": "text", "text": "Ly α GP Trough", "angle": 270, "font": "Liberation Sans", "fontSize": 33, "align": "left", "baseline": "alphabetic", "color": "#ff0000"},
                      "encoding": {"x": {"datum": 8687, "type": "quantitative", "axis": null}, "y": {"datum": 0.55, "type": "quantitative", "axis": null}}
                    }
                  ]
                },
                {
                  "width": 952, "height": 281,
                  "view": {"stroke": "#000", "strokeWidth": 1.8},
                  "layer": [
                    {
                      "data": {"name": "bands2"},
                      "mark": {"type": "rect", "color": "#cbcbcb"},
                      "encoding": {
                        "x": {"field": "start", "type": "quantitative", "scale": {"domain": [6000, 9800], "nice": false, "zero": false},
                          "axis": {"orient": "bottom", "values": [6000,6200,6400,6600,6800,7000,7200,7400,7600,7800,8000,8200,8400,8600,8800,9000,9200,9400,9600], "labels": false, "title": null, "domain": false, "tickColor": "#000", "tickWidth": 1.4, "tickSize": {"condition": {"test": "datum.value % 1000 === 0", "value": -13}, "value": -6}}},
                        "x2": {"field": "end"}
                      }
                    },
                    {
                      "data": {"values": [{}]},
                      "mark": {"type": "rule", "color": "#ff00ff", "strokeWidth": 1.3},
                      "encoding": {
                        "y": {"datum": 0, "type": "quantitative", "scale": {"domain": [-0.41, 4.5], "nice": false, "zero": false},
                          "axis": {"orient": "left", "values": [0,1,2,3,4], "labelExpr": "'' + datum.value", "labelAngle": 270, "labelAlign": "center", "labelBaseline": "bottom", "labelFont": "DejaVu Sans", "labelFontSize": 27, "labelColor": "#000", "labelPadding": 32, "title": null, "domain": false, "tickColor": "#000", "tickWidth": 1.4, "tickSize": -16}}
                      }
                    },
                    {
                      "data": {"name": "p2"},
                      "mark": {"type": "line", "interpolate": "step", "color": "#ff00ff", "strokeWidth": 1.8, "clip": true},
                      "encoding": {
                        "x": {"field": "w", "type": "quantitative", "scale": {"domain": [6000, 9800], "nice": false, "zero": false},
                          "axis": {"orient": "top", "values": [6000,6200,6400,6600,6800,7000,7200,7400,7600,7800,8000,8200,8400,8600,8800,9000,9200,9400,9600], "labels": false, "title": null, "domain": false, "tickColor": "#000", "tickWidth": 1.4, "tickSize": {"condition": {"test": "datum.value % 1000 === 0", "value": -13}, "value": -6}}},
                        "y": {"field": "f", "type": "quantitative", "scale": {"domain": [-0.41, 4.5], "nice": false, "zero": false},
                          "axis": {"orient": "right", "values": [-0.4,-0.2,0,0.2,0.4,0.6,0.8,1,1.2,1.4,1.6,1.8,2,2.2,2.4,2.6,2.8,3,3.2,3.4,3.6,3.8,4,4.2,4.4], "labels": false, "title": null, "domain": false, "tickColor": "#000", "tickWidth": 1.4, "tickSize": {"condition": {"test": "datum.value % 1 === 0", "value": -16}, "value": -8}}}
                      }
                    },
                    {
                      "data": {"values": [{}]},
                      "mark": {"type": "text", "text": "z=6.42", "font": "DejaVu Sans Mono", "fontSize": 45, "align": "left", "baseline": "alphabetic", "color": "#000"},
                      "encoding": {"x": {"datum": 6216, "type": "quantitative", "axis": null},
                        "y": {"datum": 3.78, "type": "quantitative",
                          "axis": {"orient": "left", "values": [-0.4,-0.2,0.2,0.4,0.6,0.8,1.2,1.4,1.6,1.8,2.2,2.4,2.6,2.8,3.2,3.4,3.6,3.8,4.2,4.4], "labels": false, "title": null, "domain": false, "tickColor": "#000", "tickWidth": 1.4, "tickSize": -8}}}
                    }
                  ]
                },
                {
                  "width": 952, "height": 282,
                  "view": {"stroke": "#000", "strokeWidth": 1.8},
                  "layer": [
                    {
                      "data": {"name": "bands3"},
                      "mark": {"type": "rect", "color": "#cbcbcb"},
                      "encoding": {
                        "x": {"field": "start", "type": "quantitative", "scale": {"domain": [6000, 9800], "nice": false, "zero": false},
                          "axis": {"orient": "bottom", "values": [6000,6200,6400,6600,6800,7000,7200,7400,7600,7800,8000,8200,8400,8600,8800,9000,9200,9400,9600], "labels": false, "title": null, "domain": false, "tickColor": "#000", "tickWidth": 1.4, "tickSize": {"condition": {"test": "datum.value % 1000 === 0", "value": -13}, "value": -6}}},
                        "x2": {"field": "end"}
                      }
                    },
                    {
                      "data": {"values": [{}]},
                      "mark": {"type": "rule", "color": "#00ffff", "strokeWidth": 1.5, "strokeDash": [20, 13]},
                      "encoding": {
                        "y": {"datum": 0, "type": "quantitative", "scale": {"domain": [-0.41, 6.0], "nice": false, "zero": false},
                          "axis": {"orient": "left", "values": [0,1,2,3,4,5,6], "format": "d", "labelExpr": "datum.value % 2 === 0 ? datum.label : ''", "labelAngle": 270, "labelAlign": "center", "labelBaseline": "bottom", "labelFont": "DejaVu Sans", "labelFontSize": 26, "labelColor": "#333", "labelPadding": 28, "title": null, "domain": false, "tickColor": "#000", "tickWidth": 1.4, "tickSize": {"condition": {"test": "datum.value % 2 === 0", "value": -13}, "value": -8}}}
                      }
                    },
                    {
                      "data": {"name": "p3"},
                      "mark": {"type": "line", "interpolate": "step", "color": "#00ffff", "strokeWidth": 1.4, "clip": true},
                      "encoding": {
                        "x": {"field": "w", "type": "quantitative", "scale": {"domain": [6000, 9800], "nice": false, "zero": false},
                          "axis": {"orient": "top", "values": [6000,6200,6400,6600,6800,7000,7200,7400,7600,7800,8000,8200,8400,8600,8800,9000,9200,9400,9600], "labels": false, "title": null, "domain": false, "tickColor": "#000", "tickWidth": 1.4, "tickSize": {"condition": {"test": "datum.value % 1000 === 0", "value": -13}, "value": -6}}},
                        "y": {"field": "f", "type": "quantitative", "scale": {"domain": [-0.41, 6.0], "nice": false, "zero": false},
                          "axis": {"orient": "right", "values": [0,1,2,3,4,5,6], "labels": false, "title": null, "domain": false, "tickColor": "#000", "tickWidth": 1.4, "tickSize": {"condition": {"test": "datum.value % 2 === 0", "value": -13}, "value": -8}}}
                      }
                    },
                    {
                      "data": {"values": [{}]},
                      "mark": {"type": "text", "text": "z=6.21", "font": "DejaVu Sans Mono", "fontSize": 45, "align": "left", "baseline": "alphabetic", "color": "#3a3a3a"},
                      "encoding": {"x": {"datum": 6216, "type": "quantitative", "axis": null}, "y": {"datum": 4.77, "type": "quantitative", "axis": null}}
                    }
                  ]
                },
                {
                  "width": 952, "height": 280,
                  "view": {"stroke": "#000", "strokeWidth": 1.8},
                  "layer": [
                    {
                      "data": {"name": "bands4"},
                      "mark": {"type": "rect", "color": "#cbcbcb"},
                      "encoding": {
                        "x": {"field": "start", "type": "quantitative", "scale": {"domain": [6000, 9800], "nice": false, "zero": false},
                          "axis": {"orient": "bottom", "values": [6000,6200,6400,6600,6800,7000,7200,7400,7600,7800,8000,8200,8400,8600,8800,9000,9200,9400,9600], "format": "d", "labelExpr": "datum.value % 1000 === 0 ? datum.label : ''", "labelFont": "DejaVu Sans", "labelFontSize": 25, "labelColor": "#333", "labelPadding": 22,
                            "title": "wavelength (Å)", "titleFont": "DejaVu Sans Mono", "titleFontSize": 38, "titleFontWeight": "normal", "titleColor": "#222", "titlePadding": -6, "titleX": 507,
                            "domain": false, "tickColor": "#000", "tickWidth": 1.4, "tickSize": {"condition": {"test": "datum.value % 1000 === 0", "value": -13}, "value": -6}}},
                        "x2": {"field": "end"}
                      }
                    },
                    {
                      "data": {"values": [{}]},
                      "mark": {"type": "rule", "color": "#3a55ff", "strokeWidth": 1.5, "strokeDash": [20, 13]},
                      "encoding": {
                        "y": {"datum": 0, "type": "quantitative", "scale": {"domain": [-0.49, 6.0], "nice": false, "zero": false},
                          "axis": {"orient": "left", "values": [0,1,2,3,4,5,6], "format": "d", "labelExpr": "datum.value % 2 === 0 ? datum.label : ''", "labelAngle": 270, "labelAlign": "center", "labelBaseline": "bottom", "labelFont": "DejaVu Sans", "labelFontSize": 26, "labelColor": "#333", "labelPadding": 28, "title": null, "domain": false, "tickColor": "#000", "tickWidth": 1.4, "tickSize": {"condition": {"test": "datum.value % 2 === 0", "value": -13}, "value": -8}}}
                      }
                    },
                    {
                      "data": {"name": "p4"},
                      "mark": {"type": "line", "interpolate": "step", "color": "#0000ff", "strokeWidth": 2.5, "clip": true},
                      "encoding": {
                        "x": {"field": "w", "type": "quantitative", "scale": {"domain": [6000, 9800], "nice": false, "zero": false},
                          "axis": {"orient": "top", "values": [6000,6200,6400,6600,6800,7000,7200,7400,7600,7800,8000,8200,8400,8600,8800,9000,9200,9400,9600], "labels": false, "title": null, "domain": false, "tickColor": "#000", "tickWidth": 1.4, "tickSize": {"condition": {"test": "datum.value % 1000 === 0", "value": -13}, "value": -6}}},
                        "y": {"field": "f", "type": "quantitative", "scale": {"domain": [-0.49, 6.0], "nice": false, "zero": false},
                          "axis": {"orient": "right", "values": [0,1,2,3,4,5,6], "labels": false, "title": null, "domain": false, "tickColor": "#000", "tickWidth": 1.4, "tickSize": {"condition": {"test": "datum.value % 2 === 0", "value": -13}, "value": -8}}}
                      }
                    },
                    {
                      "data": {"values": [{}]},
                      "mark": {"type": "text", "text": "z=6.18", "font": "DejaVu Sans Mono", "fontSize": 45, "align": "left", "baseline": "alphabetic", "color": "#3a3a3a"},
                      "encoding": {"x": {"datum": 6216, "type": "quantitative", "axis": null}, "y": {"datum": 4.65, "type": "quantitative", "axis": null}}
                    }
                  ]
                }
              ]
            },
            {
              "spacing": 0,
              "bounds": "flush",
              "vconcat": [
                {"width": 317, "height": 89.8, "resolve": {"axis": {"x": "independent", "y": "independent"}}, "layer": [
                  {"data": {"name": "s1"}, "mark": {"type": "line", "interpolate": "step", "color": "#ff0000", "strokeWidth": 2.5, "clip": true},
                   "encoding": {"x": {"field": "w", "type": "quantitative", "scale": {"domain": [8891, 9798], "nice": false, "zero": false}, "axis": {"orient": "bottom", "values": [8900,9000,9100,9200,9300,9400,9500,9600,9700], "labels": false, "title": null, "domainColor": "#111", "domainWidth": 2, "tickColor": "#111", "tickWidth": 1.5, "tickSize": 4}},
                                "y": {"field": "f", "type": "quantitative", "scale": {"domain": [-0.1, 1.2], "nice": false, "zero": false}, "axis": {"orient": "right", "values": [0, 0.44, 0.88], "labels": false, "title": null, "domainColor": "#111", "domainWidth": 2, "tickColor": "#111", "tickWidth": 1.5, "tickSize": -4}}}},
                  {"data": {"values": [{}]}, "mark": {"type": "rule", "color": "#ff0000", "strokeWidth": 2.5, "strokeDash": [38, 34]},
                   "encoding": {"x": {"datum": 8976, "type": "quantitative", "axis": null}, "x2": {"datum": 9698}, "y": {"datum": 0, "type": "quantitative", "axis": null}}}
                ]},
                {"width": 317, "height": 89.8, "resolve": {"axis": {"x": "independent", "y": "independent"}}, "layer": [
                  {"data": {"name": "s2"}, "mark": {"type": "line", "interpolate": "step", "color": "#ff8000", "strokeWidth": 2.5, "clip": true},
                   "encoding": {"x": {"field": "w", "type": "quantitative", "scale": {"domain": [8891, 9798], "nice": false, "zero": false}, "axis": {"orient": "bottom", "values": [8900,9000,9100,9200,9300,9400,9500,9600,9700], "labels": false, "title": null, "domainColor": "#111", "domainWidth": 2, "tickColor": "#111", "tickWidth": 1.5, "tickSize": 4}},
                                "y": {"field": "f", "type": "quantitative", "scale": {"domain": [-0.1, 1.2], "nice": false, "zero": false}, "axis": {"orient": "right", "values": [0, 0.44, 0.88], "labels": false, "title": null, "domainColor": "#111", "domainWidth": 2, "tickColor": "#111", "tickWidth": 1.5, "tickSize": -4}}}},
                  {"data": {"values": [{}]}, "mark": {"type": "rule", "color": "#ff8000", "strokeWidth": 2.5, "strokeDash": [38, 34]},
                   "encoding": {"x": {"datum": 8976, "type": "quantitative", "axis": null}, "x2": {"datum": 9698}, "y": {"datum": 0, "type": "quantitative", "axis": null}}}
                ]},
                {"width": 317, "height": 89.8, "resolve": {"axis": {"x": "independent", "y": "independent"}}, "layer": [
                  {"data": {"name": "s3"}, "mark": {"type": "line", "interpolate": "step", "color": "#ff00ff", "strokeWidth": 2.5, "clip": true},
                   "encoding": {"x": {"field": "w", "type": "quantitative", "scale": {"domain": [8891, 9798], "nice": false, "zero": false}, "axis": {"orient": "bottom", "values": [8900,9000,9100,9200,9300,9400,9500,9600,9700], "labels": false, "title": null, "domainColor": "#111", "domainWidth": 2, "tickColor": "#111", "tickWidth": 1.5, "tickSize": 4}},
                                "y": {"field": "f", "type": "quantitative", "scale": {"domain": [-0.1, 1.2], "nice": false, "zero": false}, "axis": {"orient": "right", "values": [0, 0.44, 0.88], "labels": false, "title": null, "domainColor": "#111", "domainWidth": 2, "tickColor": "#111", "tickWidth": 1.5, "tickSize": -4}}}},
                  {"data": {"values": [{}]}, "mark": {"type": "rule", "color": "#ff00ff", "strokeWidth": 2.5, "strokeDash": [38, 34]},
                   "encoding": {"x": {"datum": 8976, "type": "quantitative", "axis": null}, "x2": {"datum": 9698}, "y": {"datum": 0, "type": "quantitative", "axis": null}}}
                ]},
                {"width": 317, "height": 89.8, "resolve": {"axis": {"x": "independent", "y": "independent"}}, "layer": [
                  {"data": {"name": "s4"}, "mark": {"type": "line", "interpolate": "step", "color": "#ff00ff", "strokeWidth": 2.5, "clip": true},
                   "encoding": {"x": {"field": "w", "type": "quantitative", "scale": {"domain": [8891, 9798], "nice": false, "zero": false}, "axis": {"orient": "bottom", "values": [8900,9000,9100,9200,9300,9400,9500,9600,9700], "labels": false, "title": null, "domainColor": "#111", "domainWidth": 2, "tickColor": "#111", "tickWidth": 1.5, "tickSize": 4}},
                                "y": {"field": "f", "type": "quantitative", "scale": {"domain": [-0.1, 1.2], "nice": false, "zero": false}, "axis": {"orient": "right", "values": [0, 0.44, 0.88], "labels": false, "title": null, "domainColor": "#111", "domainWidth": 2, "tickColor": "#111", "tickWidth": 1.5, "tickSize": -4}}}},
                  {"data": {"values": [{}]}, "mark": {"type": "rule", "color": "#ff00ff", "strokeWidth": 2.5, "strokeDash": [38, 34]},
                   "encoding": {"x": {"datum": 8976, "type": "quantitative", "axis": null}, "x2": {"datum": 9698}, "y": {"datum": 0, "type": "quantitative", "axis": null}}}
                ]},
                {"width": 317, "height": 89.8, "resolve": {"axis": {"x": "independent", "y": "independent"}}, "layer": [
                  {"data": {"name": "s5"}, "mark": {"type": "line", "interpolate": "step", "color": "#00ff00", "strokeWidth": 2.5, "clip": true},
                   "encoding": {"x": {"field": "w", "type": "quantitative", "scale": {"domain": [8891, 9798], "nice": false, "zero": false}, "axis": {"orient": "bottom", "values": [8900,9000,9100,9200,9300,9400,9500,9600,9700], "labels": false, "title": null, "domainColor": "#111", "domainWidth": 2, "tickColor": "#111", "tickWidth": 1.5, "tickSize": 4}},
                                "y": {"field": "f", "type": "quantitative", "scale": {"domain": [-0.1, 1.2], "nice": false, "zero": false}, "axis": {"orient": "right", "values": [0, 0.44, 0.88], "labels": false, "title": null, "domainColor": "#111", "domainWidth": 2, "tickColor": "#111", "tickWidth": 1.5, "tickSize": -4}}}},
                  {"data": {"values": [{}]}, "mark": {"type": "rule", "color": "#00ff00", "strokeWidth": 2.5, "strokeDash": [38, 34]},
                   "encoding": {"x": {"datum": 8976, "type": "quantitative", "axis": null}, "x2": {"datum": 9698}, "y": {"datum": 0, "type": "quantitative", "axis": null}}}
                ]},
                {"width": 317, "height": 89.8, "resolve": {"axis": {"x": "independent", "y": "independent"}}, "layer": [
                  {"data": {"name": "s6"}, "mark": {"type": "line", "interpolate": "step", "color": "#00ff00", "strokeWidth": 2.5, "clip": true},
                   "encoding": {"x": {"field": "w", "type": "quantitative", "scale": {"domain": [8891, 9798], "nice": false, "zero": false}, "axis": {"orient": "bottom", "values": [8900,9000,9100,9200,9300,9400,9500,9600,9700], "labels": false, "title": null, "domainColor": "#111", "domainWidth": 2, "tickColor": "#111", "tickWidth": 1.5, "tickSize": 4}},
                                "y": {"field": "f", "type": "quantitative", "scale": {"domain": [-0.1, 1.2], "nice": false, "zero": false}, "axis": {"orient": "right", "values": [0, 0.44, 0.88], "labels": false, "title": null, "domainColor": "#111", "domainWidth": 2, "tickColor": "#111", "tickWidth": 1.5, "tickSize": -4}}}},
                  {"data": {"values": [{}]}, "mark": {"type": "rule", "color": "#00ff00", "strokeWidth": 2.5, "strokeDash": [38, 34]},
                   "encoding": {"x": {"datum": 8976, "type": "quantitative", "axis": null}, "x2": {"datum": 9698}, "y": {"datum": 0, "type": "quantitative", "axis": null}}}
                ]},
                {"width": 317, "height": 89.8, "resolve": {"axis": {"x": "independent", "y": "independent"}}, "layer": [
                  {"data": {"name": "s7"}, "mark": {"type": "line", "interpolate": "step", "color": "#22ee88", "strokeWidth": 2.5, "clip": true},
                   "encoding": {"x": {"field": "w", "type": "quantitative", "scale": {"domain": [8891, 9798], "nice": false, "zero": false}, "axis": {"orient": "bottom", "values": [8900,9000,9100,9200,9300,9400,9500,9600,9700], "labels": false, "title": null, "domainColor": "#111", "domainWidth": 2, "tickColor": "#111", "tickWidth": 1.5, "tickSize": 4}},
                                "y": {"field": "f", "type": "quantitative", "scale": {"domain": [-0.1, 1.2], "nice": false, "zero": false}, "axis": {"orient": "right", "values": [0, 0.44, 0.88], "labels": false, "title": null, "domainColor": "#111", "domainWidth": 2, "tickColor": "#111", "tickWidth": 1.5, "tickSize": -4}}}},
                  {"data": {"values": [{}]}, "mark": {"type": "rule", "color": "#22ee88", "strokeWidth": 2.5, "strokeDash": [38, 34]},
                   "encoding": {"x": {"datum": 8976, "type": "quantitative", "axis": null}, "x2": {"datum": 9698}, "y": {"datum": 0, "type": "quantitative", "axis": null}}}
                ]},
                {"width": 317, "height": 89.8, "resolve": {"axis": {"x": "independent", "y": "independent"}}, "layer": [
                  {"data": {"name": "s8"}, "mark": {"type": "line", "interpolate": "step", "color": "#33ff33", "strokeWidth": 2.5, "clip": true},
                   "encoding": {"x": {"field": "w", "type": "quantitative", "scale": {"domain": [8891, 9798], "nice": false, "zero": false}, "axis": {"orient": "bottom", "values": [8900,9000,9100,9200,9300,9400,9500,9600,9700], "labels": false, "title": null, "domainColor": "#111", "domainWidth": 2, "tickColor": "#111", "tickWidth": 1.5, "tickSize": 4}},
                                "y": {"field": "f", "type": "quantitative", "scale": {"domain": [-0.1, 1.2], "nice": false, "zero": false}, "axis": {"orient": "right", "values": [0, 0.44, 0.88], "labels": false, "title": null, "domainColor": "#111", "domainWidth": 2, "tickColor": "#111", "tickWidth": 1.5, "tickSize": -4}}}},
                  {"data": {"values": [{}]}, "mark": {"type": "rule", "color": "#33ff33", "strokeWidth": 2.5, "strokeDash": [38, 34]},
                   "encoding": {"x": {"datum": 8976, "type": "quantitative", "axis": null}, "x2": {"datum": 9698}, "y": {"datum": 0, "type": "quantitative", "axis": null}}}
                ]},
                {"width": 317, "height": 89.8, "layer": [
                  {"data": {"name": "s9"}, "mark": {"type": "line", "interpolate": "step", "color": "#00ffff", "strokeWidth": 2.5, "clip": true},
                   "encoding": {"x": {"field": "w", "type": "quantitative", "scale": {"domain": [8891, 9798], "nice": false, "zero": false}, "axis": {"orient": "bottom", "values": [8900,9000,9100,9200,9300,9400,9500,9600,9700], "labels": false, "title": null, "domainColor": "#111", "domainWidth": 2, "tickColor": "#111", "tickWidth": 1.5, "tickSize": 4}},
                                "y": {"field": "f", "type": "quantitative", "scale": {"domain": [-0.1, 1.2], "nice": false, "zero": false}, "axis": {"orient": "right", "values": [0, 0.44, 0.88], "labels": false, "title": null, "domainColor": "#111", "domainWidth": 2, "tickColor": "#111", "tickWidth": 1.5, "tickSize": -4}}}}
                ]},
                {"width": 317, "height": 89.8, "resolve": {"axis": {"x": "independent", "y": "independent"}}, "layer": [
                  {"data": {"name": "s10"}, "mark": {"type": "line", "interpolate": "step", "color": "#1e88ff", "strokeWidth": 2.5, "clip": true},
                   "encoding": {"x": {"field": "w", "type": "quantitative", "scale": {"domain": [8891, 9798], "nice": false, "zero": false}, "axis": {"orient": "bottom", "values": [8900,9000,9100,9200,9300,9400,9500,9600,9700], "labels": false, "title": null, "domainColor": "#111", "domainWidth": 2, "tickColor": "#111", "tickWidth": 1.5, "tickSize": 4}},
                                "y": {"field": "f", "type": "quantitative", "scale": {"domain": [-0.1, 1.2], "nice": false, "zero": false}, "axis": {"orient": "right", "values": [0, 0.44, 0.88], "labels": false, "title": null, "domainColor": "#111", "domainWidth": 2, "tickColor": "#111", "tickWidth": 1.5, "tickSize": -4}}}},
                  {"data": {"values": [{}]}, "mark": {"type": "rule", "color": "#1e88ff", "strokeWidth": 2.5, "strokeDash": [38, 34]},
                   "encoding": {"x": {"datum": 8976, "type": "quantitative", "axis": null}, "x2": {"datum": 9698}, "y": {"datum": 0, "type": "quantitative", "axis": null}}}
                ]},
                {"width": 317, "height": 89.8, "resolve": {"axis": {"x": "independent", "y": "independent"}}, "layer": [
                  {"data": {"name": "s11"}, "mark": {"type": "line", "interpolate": "step", "color": "#0000ff", "strokeWidth": 2.5, "clip": true},
                   "encoding": {"x": {"field": "w", "type": "quantitative", "scale": {"domain": [8891, 9798], "nice": false, "zero": false}, "axis": {"orient": "bottom", "values": [8900,9000,9100,9200,9300,9400,9500,9600,9700], "labels": false, "title": null, "domainColor": "#111", "domainWidth": 2, "tickColor": "#111", "tickWidth": 1.5, "tickSize": 4}},
                                "y": {"field": "f", "type": "quantitative", "scale": {"domain": [-0.1, 1.2], "nice": false, "zero": false}, "axis": {"orient": "right", "values": [0, 0.44, 0.88], "labels": false, "title": null, "domainColor": "#111", "domainWidth": 2, "tickColor": "#111", "tickWidth": 1.5, "tickSize": -4}}}},
                  {"data": {"values": [{}]}, "mark": {"type": "rule", "color": "#0000ff", "strokeWidth": 2.5, "strokeDash": [38, 34]},
                   "encoding": {"x": {"datum": 8976, "type": "quantitative", "axis": null}, "x2": {"datum": 9698}, "y": {"datum": 0, "type": "quantitative", "axis": null}}}
                ]},
                {"width": 317, "height": 89.8, "resolve": {"axis": {"x": "independent", "y": "independent"}}, "layer": [
                  {"data": {"name": "s12"}, "mark": {"type": "line", "interpolate": "step", "color": "#0000ff", "strokeWidth": 2.5, "clip": true},
                   "encoding": {"x": {"field": "w", "type": "quantitative", "scale": {"domain": [8891, 9798], "nice": false, "zero": false}, "axis": {"orient": "bottom", "values": [8900,9000,9100,9200,9300,9400,9500,9600,9700], "format": "d", "labelExpr": "datum.value === 9000 ? datum.label : ''", "labelFont": "DejaVu Sans", "labelFontSize": 31, "labelColor": "#333", "labelPadding": 12, "title": null, "domainColor": "#111", "domainWidth": 2, "tickColor": "#111", "tickWidth": 1.5, "tickSize": 4}},
                                "y": {"field": "f", "type": "quantitative", "scale": {"domain": [-0.1, 1.2], "nice": false, "zero": false}, "axis": {"orient": "right", "values": [0, 0.44, 0.88], "labels": false, "title": null, "domainColor": "#111", "domainWidth": 2, "tickColor": "#111", "tickWidth": 1.5, "tickSize": -4}}}},
                  {"data": {"values": [{}]}, "mark": {"type": "rule", "color": "#0000ff", "strokeWidth": 2.5, "strokeDash": [38, 34]},
                   "encoding": {"x": {"datum": 8976, "type": "quantitative", "axis": null}, "x2": {"datum": 9698}, "y": {"datum": 0, "type": "quantitative", "axis": null}}}
                ]}
              ]
            }
          ]
        }
      ]
    }
  ]
}
